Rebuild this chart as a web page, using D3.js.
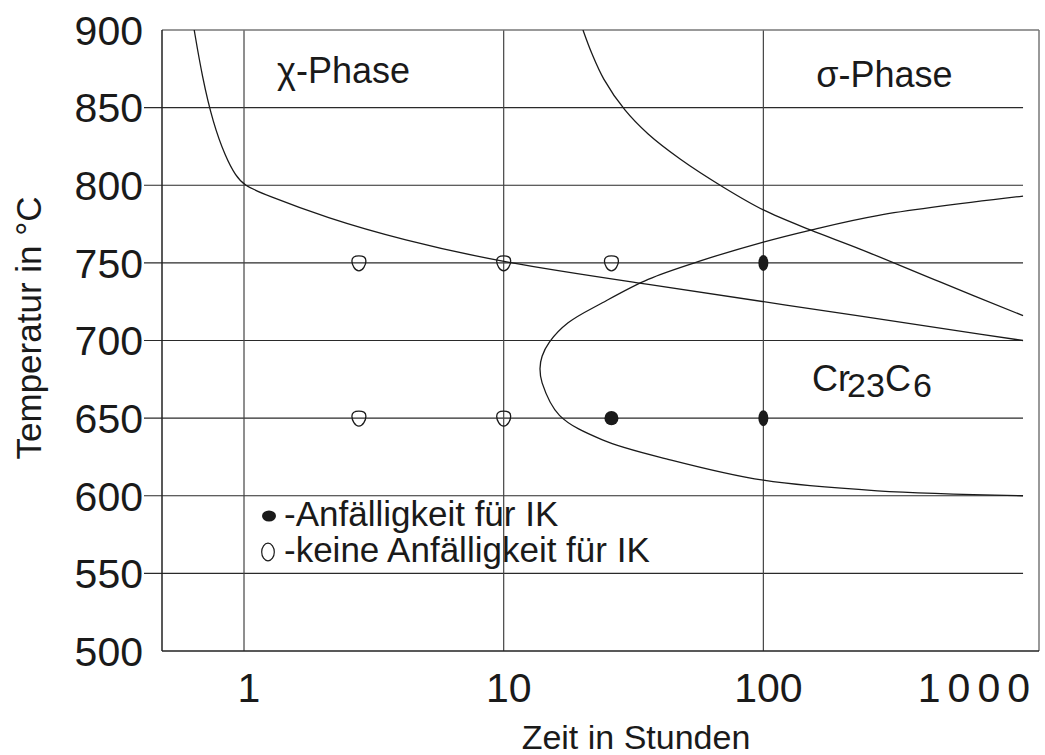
<!DOCTYPE html>
<html>
<head>
<meta charset="utf-8">
<script src="https://cdn.jsdelivr.net/npm/d3@7/dist/d3.min.js"></script>
<style>
  html, body { margin: 0; padding: 0; background: #fff; }
  svg { display: block; }
  text { font-family: "Liberation Sans", Arial, sans-serif; fill: #1a1a1a; }
</style>
</head>
<body>
<svg id="chart" width="1045" height="755"></svg>
<script>
// ---------- data ----------
const xTickValues = [1, 10, 100, 1000];
const xTickLabels = ["1", "10", "100", "1000"];
const yTickValues = [500, 550, 600, 650, 700, 750, 800, 850, 900];
const yGridValues = [550, 600, 650, 700, 750, 800, 850];
const xGridValues = [1, 10, 100];

// chi-phase boundary (time h, temperature °C)
const chiTime = [0.643, 0.69, 0.76, 0.85, 0.93, 1, 1.2, 2.08, 4.03, 10, 33.4, 100, 1000];
const chiTemp = [900, 870, 840, 818, 806, 800, 794, 779, 765, 750, 737, 725, 700];

// sigma-phase boundary
const sigmaTime = [20.2, 21.9, 24.3, 29.3, 36, 47.8, 69.9, 100, 151.7, 235.6, 479, 1000];
const sigmaTemp = [900, 884.5, 868.4, 848.5, 833, 816.9, 798.9, 784.1, 771.2, 758.9, 737.7, 716];

// Cr23C6 C-curve (upper branch from right, nose, lower branch to right)
const carbTime = [1000, 275, 151, 100, 58, 36, 24, 17.7, 15, 14.06, 13.8, 14.06, 16.4, 24, 44.2, 100, 275, 1000];
const carbTemp = [793, 780.5, 771, 763.4, 751.6, 739.4, 724.3, 711.4, 699, 689.9, 682, 672.7, 651.8, 636, 623, 610, 603.2, 600];

// experiments
const openTime = [2.77, 10, 26, 2.77, 10];
const openTemp = [750, 750, 750, 650, 650];
const filledTime = [100, 26, 100];
const filledTemp = [750, 650, 650];

const legendLabels = ["-Anfälligkeit für IK", "-keine Anfälligkeit für IK"];
const xTitle = "Zeit in Stunden";
const yTitle = "Temperatur in °C";

// ---------- layout ----------
(function () {
const svg = d3.select("#chart");
const pLeft = 162, pRight = 1039, pTop = 30, pBottom = 651;

const x = d3.scaleLog().domain([0.4833, 1152]).range([pLeft, pRight]);
const y = d3.scaleLinear().domain([500, 900]).range([pBottom, pTop]);

svg.append("rect").attr("width", 1045).attr("height", 755).attr("fill", "#fff");

svg.append("clipPath").attr("id", "plotclip")
  .append("rect").attr("x", pLeft).attr("y", pTop).attr("width", pRight - pLeft).attr("height", pBottom - pTop);

// horizontal gridlines (with tick stubs to the left)
svg.append("g").selectAll("line").data(yGridValues).join("line")
  .attr("x1", pLeft - 18).attr("x2", x(1000))
  .attr("y1", d => y(d)).attr("y2", d => y(d))
  .attr("stroke", "#2a2a2a").attr("stroke-width", 1.1);

// vertical gridlines
svg.append("g").selectAll("line").data(xGridValues).join("line")
  .attr("x1", d => x(d)).attr("x2", d => x(d))
  .attr("y1", pTop).attr("y2", pBottom)
  .attr("stroke", "#444").attr("stroke-width", 1.2);

// frame
svg.append("line").attr("x1", pLeft).attr("x2", pRight).attr("y1", pTop).attr("y2", pTop)
  .attr("stroke", "#777").attr("stroke-width", 1.5);
svg.append("line").attr("x1", pRight).attr("x2", pRight).attr("y1", pTop).attr("y2", pBottom)
  .attr("stroke", "#777").attr("stroke-width", 1.5);
svg.append("line").attr("x1", pLeft).attr("x2", pLeft).attr("y1", pTop).attr("y2", pBottom)
  .attr("stroke", "#222").attr("stroke-width", 1.5);
svg.append("line").attr("x1", pLeft).attr("x2", pRight).attr("y1", pBottom).attr("y2", pBottom)
  .attr("stroke", "#222").attr("stroke-width", 1.5);

// y tick labels
svg.append("g").selectAll("text").data(yTickValues).join("text")
  .attr("x", pLeft - 19).attr("y", d => y(d)).attr("dy", "0.36em")
  .attr("text-anchor", "end").attr("font-size", 41)
  .text(d => d);

// x tick labels
const last = xTickValues.length - 1;
svg.append("g").selectAll("text").data(xTickValues).join("text")
  .attr("x", (d, i) => i === last ? x(d) + 14 : x(d) + 5)
  .attr("y", 702)
  .attr("text-anchor", (d, i) => i === last ? "end" : "middle")
  .attr("letter-spacing", (d, i) => i === last ? 7 : 0)
  .attr("font-size", 41)
  .text((d, i) => xTickLabels[i]);

// axis titles
svg.append("text").attr("x", 636).attr("y", 749).attr("text-anchor", "middle")
  .attr("font-size", 34).text(xTitle);
svg.append("text").attr("transform", "translate(41,328) rotate(-90)")
  .attr("text-anchor", "middle").attr("font-size", 35).text(yTitle);

// curves
const plot = svg.append("g").attr("clip-path", "url(#plotclip)");
const mk = c => d3.line().x(d => x(d[0])).y(d => y(d[1])).curve(c);

plot.append("path")
  .datum(chiTime.map((t, i) => [t, chiTemp[i]]))
  .attr("d", mk(d3.curveBasis))
  .attr("fill", "none").attr("stroke", "#1a1a1a").attr("stroke-width", 1.3);

plot.append("path")
  .datum(sigmaTime.map((t, i) => [t, sigmaTemp[i]]))
  .attr("d", mk(d3.curveCatmullRom.alpha(0.5)))
  .attr("fill", "none").attr("stroke", "#1a1a1a").attr("stroke-width", 1.3);

plot.append("path")
  .datum(carbTime.map((t, i) => [t, carbTemp[i]]))
  .attr("d", mk(d3.curveCatmullRom.alpha(0.5)))
  .attr("fill", "none").attr("stroke", "#1a1a1a").attr("stroke-width", 1.3);

// markers
const pick = "M0,8 C-4,8 -7,2 -7,-2 C-7,-6 -4,-7 0,-7 C4,-7 7,-6 7,-2 C7,2 4,8 0,8 Z";
svg.append("g").selectAll("path").data(openTime.map((t, i) => [t, openTemp[i]])).join("path")
  .attr("transform", d => `translate(${x(d[0])},${y(d[1])})`)
  .attr("d", pick).attr("fill", "none").attr("stroke", "#1a1a1a").attr("stroke-width", 1.3);

svg.append("g").selectAll("ellipse").data(filledTime.map((t, i) => [t, filledTemp[i]])).join("ellipse")
  .attr("cx", d => x(d[0])).attr("cy", d => y(d[1]))
  .attr("rx", d => d[0] >= 100 ? 5 : 7).attr("ry", d => d[0] >= 100 ? 8 : 7.2)
  .attr("fill", "#1a1a1a");

// phase labels
svg.append("text").attr("x", x(1.34)).attr("y", y(866)).attr("font-size", 36).text("χ-Phase");
svg.append("text").attr("x", x(160)).attr("y", y(863)).attr("font-size", 36).text("σ-Phase");
const cr = svg.append("text").attr("x", x(154)).attr("y", y(667.5)).attr("font-size", 36);
cr.append("tspan").text("Cr");
cr.append("tspan").attr("dy", 6).attr("dx", -3).attr("font-size", 34).text("23");
cr.append("tspan").attr("dy", -6).text("C");
cr.append("tspan").attr("dy", 6).attr("dx", 2).attr("font-size", 34).text("6");

// legend
svg.append("ellipse").attr("cx", 269).attr("cy", 516).attr("rx", 7).attr("ry", 5.5).attr("fill", "#1a1a1a");
svg.append("ellipse").attr("cx", 268).attr("cy", 552).attr("rx", 6.3).attr("ry", 8.8)
  .attr("fill", "none").attr("stroke", "#1a1a1a").attr("stroke-width", 1.2);
svg.append("text").attr("x", 284).attr("y", 526).attr("font-size", 35).text(legendLabels[0]);
svg.append("text").attr("x", 284).attr("y", 562).attr("font-size", 35).text(legendLabels[1]);
})();
</script>
</body>
</html>
